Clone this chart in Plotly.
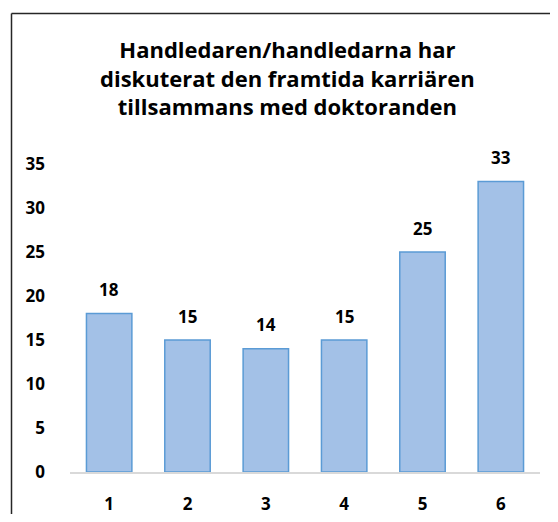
import plotly.graph_objects as go

categories = ["1", "2", "3", "4", "5", "6"]
values = [18, 15, 14, 15, 25, 33]
y_ticks = [0, 5, 10, 15, 20, 25, 30, 35]
title_lines = ["Handledaren/handledarna har",
               "diskuterat den framtida karriären",
               "tillsammans med doktoranden"]

OFF = 8  # page body margin
W, H = 558 - 2 * OFF, 522 - 2 * OFF
PL, PR, PT, PB = 70, 540, 164, 472  # plot area in page pixels
L, R, T, B = PL - OFF, W - (PR - OFF), PT - OFF, H - (PB - OFF)
pw, ph = W - L - R, H - T - B

def px_x(px):
    return (px - OFF - L) / pw

def px_y(py):
    return (H - B - (py - OFF)) / ph

FONT = "Open Sans"

fig = go.Figure()
fig.add_trace(go.Bar(
    x=categories, y=values,
    marker=dict(color="#a3c1e7", line=dict(color="#5b9bd5", width=1.5)),
    hoverinfo="skip",
))

for i, v in enumerate(values):
    fig.add_annotation(x=i, y=v, text=str(v), showarrow=False,
                       yanchor="middle", yshift=24,
                       font=dict(family=FONT, size=17, color="#000000", weight="bold"))

fig.add_annotation(xref="paper", yref="paper", x=px_x(287), y=px_y(78),
                   xanchor="center", yanchor="middle", showarrow=False,
                   text="<br>".join(title_lines), align="center",
                   font=dict(family=FONT, size=22, color="#000000", weight="bold"))

# outer frame (left and top edges visible)
fig.add_shape(type="line", xref="paper", yref="paper",
              x0=px_x(11.5), x1=px_x(11.5), y0=px_y(13.5), y1=px_y(540),
              line=dict(color="#262626", width=1.5))
fig.add_shape(type="line", xref="paper", yref="paper",
              x0=px_x(11.5), x1=px_x(580), y0=px_y(13.5), y1=px_y(13.5),
              line=dict(color="#262626", width=1.5))

fig.update_layout(
    width=W, height=H,
    margin=dict(l=L, r=R, t=T, b=B, pad=0, autoexpand=False),
    paper_bgcolor="white", plot_bgcolor="white",
    bargap=0.42, showlegend=False,
    xaxis=dict(type="category", range=[-0.5, len(categories) - 0.5], automargin=False,
               showgrid=False, showline=True, linecolor="#d9d9d9",
               linewidth=2, ticks="", ticklabelstandoff=16,
               tickfont=dict(family=FONT, size=17, color="#000000", weight="bold")),
    yaxis=dict(range=[0, 35], tickvals=y_ticks, automargin=False,
               showgrid=False, showline=False,
               zeroline=False, ticks="", ticklabelstandoff=24,
               tickfont=dict(family=FONT, size=17, color="#000000", weight="bold")),
)

fig.write_html("out.html")
